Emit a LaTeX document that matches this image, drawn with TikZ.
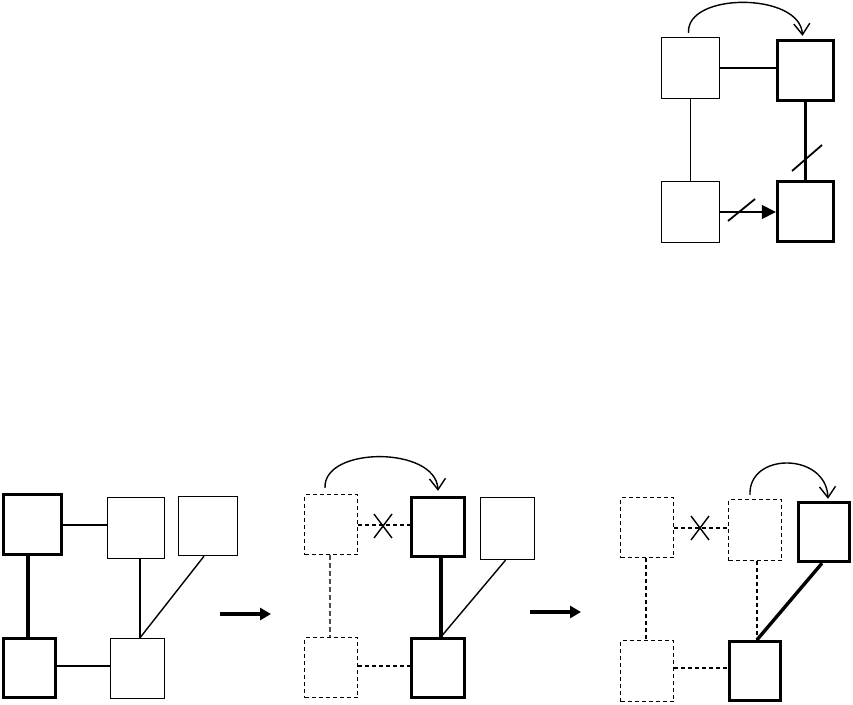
\documentclass[tikz,border=0pt]{standalone}
\usetikzlibrary{arrows.meta,calc}
\begin{document}
\begin{tikzpicture}[x=1pt,y=-1pt,
  thinbox/.style={draw,line width=1.4pt,inner sep=0pt},
  thickbox/.style={draw,line width=3.4pt,inner sep=0pt},
  dbox/.style={draw,line width=1.1pt,dash pattern=on 4pt off 3pt,inner sep=0pt},
  thinline/.style={line width=1.4pt},
  thickline/.style={line width=3.4pt},
  dline/.style={line width=1.1pt,dash pattern=on 4pt off 3pt},
  gdline/.style={line width=1.1pt,dash pattern=on 5pt off 3pt,gray!60!black},
  curvearrow/.style={line width=1.4pt,-{Straight Barb[length=11pt,width=16pt,line width=1.4pt]}},
  bigarrow/.style={line width=3.4pt,-{Triangle[length=11pt,width=12pt]}},
  slashmark/.style={line width=1.8pt}]
\useasboundingbox (0,0) rectangle (853,704);
% ---------- top-right group ----------
\node[thinbox,minimum width=58pt,minimum height=61pt] (a) at (690.5,68) {};
\node[thickbox,minimum width=56pt,minimum height=60pt] (b) at (805.5,70.5) {};
\node[thinbox,minimum width=58pt,minimum height=61pt] (c) at (690.5,212) {};
\node[thickbox,minimum width=56pt,minimum height=60pt] (d) at (805.5,211.5) {};
\draw[thinline] (a.east) -- (a.east -| b.west);
\draw[thinline] (a.south) -- (c.north);
\draw[thickline] (b.south) -- (d.north);
\draw[slashmark] (792,171) -- (822,145);
\draw[thinline,-{Triangle[length=14pt,width=14pt]}] (c.east) -- (c.east -| d.west);
\draw[slashmark] (728,221) -- (755,199);
\draw[curvearrow] ($(a.north)+(-2,-4)$) .. controls (686,-8) and (800,-8) .. ($(b.north)+(-3,-3)$);
% ---------- bottom-left group ----------
\node[thickbox,minimum width=58pt,minimum height=60pt] (b1) at (32.5,524.5) {};
\node[thinbox,minimum width=57pt,minimum height=61pt] (b2) at (136,528) {};
\node[thinbox,minimum width=59pt,minimum height=59pt] (b3) at (208,526) {};
\node[thickbox,minimum width=52pt,minimum height=59pt] (b4) at (29.5,668) {};
\node[thinbox,minimum width=54pt,minimum height=60pt] (b5) at (137.5,668.5) {};
\draw[thinline] (b1.east |- 0,525) -- (b2.west |- 0,525);
\draw[thickline] (28,0 |- b1.south) -- (28,0 |- b4.north);
\draw[thinline] (140,0 |- b2.south) -- (140,0 |- b5.north);
\draw[thinline] ($(b3.south)+(-4,0)$) -- ($(b5.north)+(2.5,0)$);
\draw[thinline] (b4.east |- 0,666) -- (b5.west |- 0,666);
\coordinate (s1) at (220,614);
\coordinate (e1) at (271,614);
\draw[bigarrow] (s1) -- (e1);
% ---------- middle group ----------
\node[dbox,minimum width=53pt,minimum height=60pt] (m1) at (331,524.5) {};
\node[thickbox,minimum width=53pt,minimum height=59pt] (m2) at (438,527) {};
\node[thinbox,minimum width=54pt,minimum height=62pt] (m3) at (507.5,528.5) {};
\node[dbox,minimum width=53pt,minimum height=60pt] (m4) at (331,667.5) {};
\node[thickbox,minimum width=53pt,minimum height=59pt] (m5) at (438,668) {};
\draw[dline] (m1.east |- 0,525) -- (m2.west |- 0,525);
\draw[thinline] (374,514) -- (392,538);
\draw[thinline] (392,514) -- (374,538);
\draw[gdline] (330,0 |- m1.south) -- (330,0 |- m4.north);
\draw[thickline] (441,0 |- m2.south) -- (441,0 |- m5.north);
\draw[thinline] ($(m3.south)+(-2,0)$) -- ($(m5.north)+(3,0)$);
\draw[dline] (m4.east |- 0,666) -- (m5.west |- 0,666);
\draw[curvearrow] ($(m1.north)+(-6,-6)$) .. controls (323,446) and (436,446) .. ($(m2.north)+(0,-5)$);
\coordinate (s2) at (530,612);
\coordinate (e2) at (581,612);
\draw[bigarrow] (s2) -- (e2);
% ---------- right group ----------
\node[dbox,minimum width=53pt,minimum height=60pt] (r1) at (647,527.5) {};
\node[dbox,minimum width=53pt,minimum height=61pt] (r2) at (755,530) {};
\node[thickbox,minimum width=51pt,minimum height=59pt] (r3) at (824,532) {};
\node[dbox,minimum width=53pt,minimum height=61pt] (r4) at (647,671) {};
\node[thickbox,minimum width=51pt,minimum height=59pt] (r5) at (755,671) {};
\draw[dline] (r1.east |- 0,528) -- (r2.west |- 0,528);
\draw[thinline] (691,516) -- (709,540);
\draw[thinline] (709,516) -- (691,540);
\draw[dline] (646,0 |- r1.south) -- (646,0 |- r4.north);
\draw[dline] (757,0 |- r2.south) -- (757,0 |- r5.north);
\draw[thickline] ($(r3.south)+(-2,0)$) -- ($(r5.north)+(2,0)$);
\draw[dline] (r4.east |- 0,668) -- (r5.west |- 0,668);
\draw[curvearrow] ($(r2.north)+(-5,-4)$) .. controls (748,452) and (826,452) .. ($(r3.north)+(4,-2)$);
\end{tikzpicture}
\end{document}
